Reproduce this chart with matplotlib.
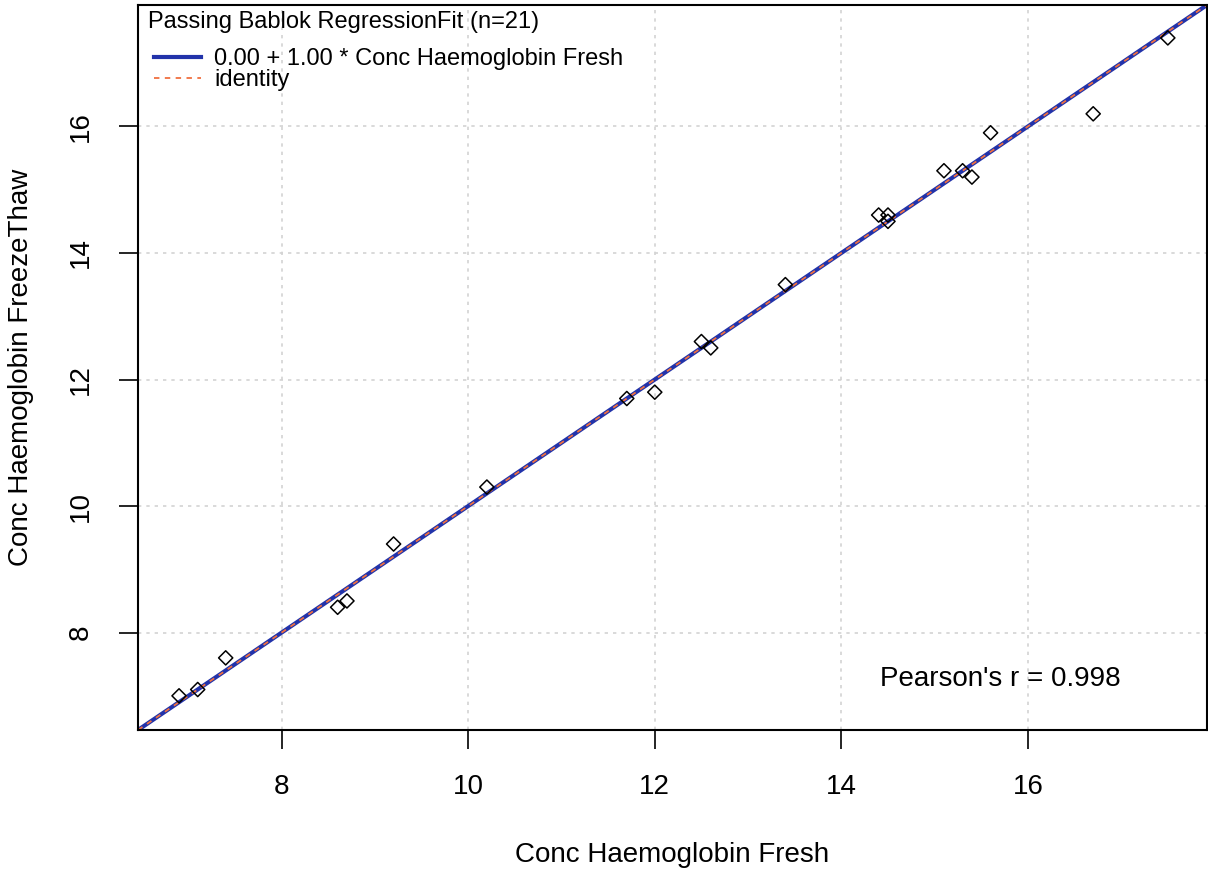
import matplotlib
matplotlib.use('Agg')
import matplotlib.pyplot as plt
from matplotlib.lines import Line2D

# valeurs
fresh = [6.9, 7.1, 7.4, 8.6, 8.7, 9.2, 10.2, 11.7, 12.0, 12.5, 12.6,
         13.4, 14.4, 14.5, 14.5, 15.1, 15.3, 15.4, 15.6, 16.7, 17.5]
freeze_thaw = [7.0, 7.1, 7.6, 8.4, 8.5, 9.4, 10.3, 11.7, 11.8, 12.6, 12.5,
               13.5, 14.6, 14.6, 14.5, 15.3, 15.3, 15.2, 15.9, 16.2, 17.4]
intercept, slope = 0.00, 1.00
pearson_r = 0.998
ticks = [8, 10, 12, 14, 16]
lims = (6.46, 17.92)

plt.rcParams['font.family'] = ['Liberation Sans', 'DejaVu Sans']

fig = plt.figure(figsize=(12.08, 8.74), dpi=100)
ax = fig.add_axes([138 / 1208, 144 / 874, 1069 / 1208, 725 / 874])

ax.set_xlim(lims)
ax.set_ylim(lims)
ax.set_xticks(ticks)
ax.set_yticks(ticks)
ax.grid(True, color='#d3d3d3', linestyle=(0, (2, 3)), linewidth=1.2)
ax.set_axisbelow(True)

fit_x = list(lims)
fit_y = [intercept + slope * v for v in fit_x]
ax.plot(fit_x, fit_y, color='#2233aa', linewidth=3)
ax.plot(fit_x, fit_x, color='#f07040', linestyle=(0, (3, 3)), linewidth=1.3)

ax.scatter(fresh, freeze_thaw, marker='D', s=52, facecolors='none',
           edgecolors='black', linewidths=1.1, zorder=3)

ax.text(15.7, 7.27, f"Pearson's r = {pearson_r}", fontsize=20, ha='center', va='center')

ax.set_xlabel('Conc Haemoglobin Fresh', fontsize=20, labelpad=30)
ax.set_ylabel('Conc Haemoglobin FreezeThaw', fontsize=20, labelpad=24)
ax.tick_params(axis='both', direction='out', length=14, width=1.2, labelsize=20, pad=18)
for lab in ax.get_yticklabels():
    lab.set_rotation(90)
    lab.set_va('center')
for sp in ax.spines.values():
    sp.set_linewidth(1.5)

# titre de la légende à part pour garder l'écart du modèle
ax.text(0.0094, 0.977, 'Passing Bablok RegressionFit (n=21)', transform=ax.transAxes,
        fontsize=17, ha='left', va='center')
handles = [Line2D([], [], color='#2233aa', linewidth=3),
           Line2D([], [], color='#f07040', linestyle=(0, (3, 3)), linewidth=1.3)]
ax.legend(handles, [f'{intercept:.2f} + {slope:.2f} * Conc Haemoglobin Fresh', 'identity'],
          loc='upper left', bbox_to_anchor=(0.015, 0.94), frameon=False,
          fontsize=17, handlelength=2.0, labelspacing=-0.05, borderaxespad=0,
          borderpad=0, handletextpad=0.55)

fig.savefig('out.png', dpi=100)
